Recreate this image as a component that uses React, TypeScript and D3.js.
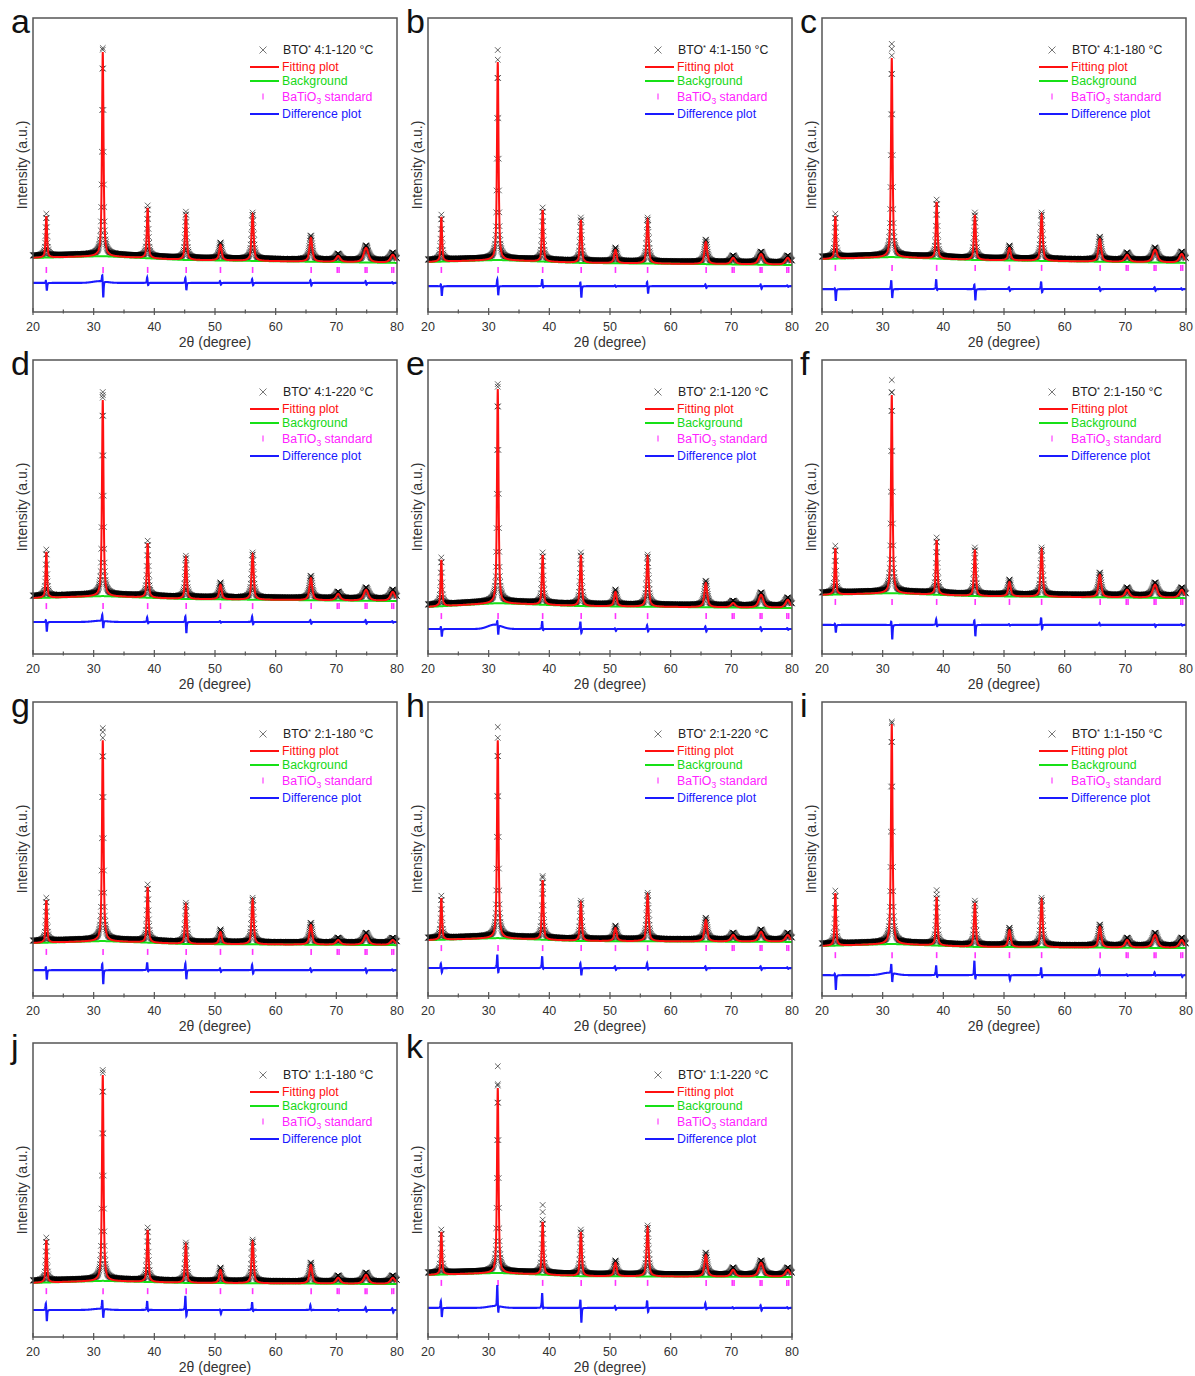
import React from 'react';
import * as d3 from 'd3';

const W = 1195;
const H = 1376;
const FONT = '"Liberation Sans", Arial, Helvetica, sans-serif';

// panel layout
const colLefts = [33, 428, 822];
const rowTops = [18, 360, 702, 1043];
const PW = 364;
const PH = 294;

// labels
const panelLetters = ['a', 'b', 'c', 'd', 'e', 'f', 'g', 'h', 'i', 'j', 'k'];
const sampleRatios = ['4:1', '4:1', '4:1', '4:1', '2:1', '2:1', '2:1', '2:1', '1:1', '1:1', '1:1'];
const sampleTemps = [120, 150, 180, 220, 120, 150, 180, 220, 150, 180, 220];
const xTicks = [20, 30, 40, 50, 60, 70, 80];

// BaTiO3 reflections (2theta) and fitted widths (FWHM, degree)
const peakPositions = [22.2, 31.5, 38.9, 45.2, 50.9, 56.2, 65.8, 70.3, 74.9, 79.3];
const peakWidths = [0.28, 0.3, 0.32, 0.36, 0.5, 0.42, 0.55, 0.8, 0.9, 0.9];
const standardPositions = [22.2, 31.55, 38.9, 45.25, 50.9, 56.2, 65.85, 70.15, 70.45, 74.75, 75.05, 79.15, 79.45];

// background knots (2theta) and levels per panel (a.u.)
const bgKnots = [20, 31.5, 45, 80];
const bgLevels = [
  [184, 190, 177, 167],
  [170, 177, 167, 160],
  [180, 187, 177, 167],
  [190, 197, 187, 180],
  [160, 173, 163, 156],
  [201, 207, 197, 190],
  [180, 187, 177, 173],
  [190, 197, 187, 184],
  [170, 177, 167, 163],
  [184, 191, 184, 180],
  [211, 218, 207, 204],
];

// fitted peak tops per panel (a.u.), one per reflection
const fitTops = [
  [326, 884, 354, 333, 228, 330, 252, 190, 218, 194],
  [323, 850, 347, 313, 211, 313, 238, 184, 197, 184],
  [326, 864, 374, 330, 218, 330, 248, 194, 211, 197],
  [347, 864, 377, 326, 235, 337, 258, 204, 218, 211],
  [320, 901, 337, 337, 211, 330, 241, 173, 201, 184],
  [360, 881, 388, 354, 245, 354, 269, 218, 235, 218],
  [326, 870, 371, 309, 218, 326, 241, 190, 207, 190],
  [333, 870, 394, 316, 231, 343, 258, 207, 218, 207],
  [350, 925, 337, 316, 224, 326, 235, 190, 207, 190],
  [330, 891, 364, 313, 228, 323, 245, 201, 211, 201],
  [357, 847, 391, 357, 252, 371, 279, 228, 252, 228],
];

// observed points sitting above the fit at peak tops [2theta, a.u.]
const extraMarks = [
  [[31.5, 898]],
  [[31.5, 891]],
  [[31.5, 912], [31.5, 895]],
  [[31.5, 891], [31.5, 881]],
  [[31.5, 918]],
  [[31.5, 932], [31.5, 891]],
  [[31.5, 911], [31.5, 898]],
  [[31.5, 915], [38.9, 408], [38.9, 371]],
  [[31.5, 928], [38.9, 360]],
  [[31.5, 908]],
  [[31.5, 921], [31.5, 860], [38.9, 449], [38.9, 425]],
];

// standard tick level and difference baseline per panel
const tickLevels = [143, 143, 150, 163, 129, 177, 150, 163, 139, 156, 184];
const diffLevels = [99, 88, 78, 109, 85, 99, 88, 95, 71, 92, 99];
const diffHumps = [6, 0, 0, 4, 15, 0, 0, 0, 8, 4, 6];

// difference spikes at each reflection: positive and negative lobes
const diffUp = [
  [10, 27, 20, 20, 7, 14, 10, 0, 7, 3],
  [10, 27, 24, 17, 3, 17, 7, 0, 7, 3],
  [7, 34, 34, 20, 7, 27, 7, 0, 7, 3],
  [10, 24, 17, 24, 3, 20, 7, 0, 7, 3],
  [10, 17, 27, 27, 3, 14, 10, 0, 7, 3],
  [7, 17, 20, 20, 3, 27, 7, 0, 3, 3],
  [14, 27, 27, 27, 7, 20, 7, 0, 7, 3],
  [17, 48, 41, 20, 7, 17, 7, 0, 7, 3],
  [10, 34, 34, 51, 3, 27, 17, 3, 10, 3],
  [27, 34, 31, 51, 3, 27, 17, 3, 10, 7],
  [27, 75, 51, 34, 7, 27, 17, 3, 10, 3],
];
const diffDown = [
  [27, 58, 10, 27, 7, 10, 10, 0, 7, 3],
  [34, 34, 7, 41, 3, 27, 7, 0, 10, 3],
  [41, 34, 7, 41, 7, 14, 7, 0, 7, 3],
  [34, 27, 7, 41, 3, 10, 7, 0, 7, 3],
  [27, 34, 7, 17, 7, 10, 10, 0, 7, 3],
  [27, 51, 7, 41, 3, 17, 3, 0, 7, 3],
  [34, 51, 7, 34, 7, 14, 7, 0, 10, 3],
  [17, 20, 7, 27, 7, 7, 7, 0, 7, 3],
  [51, 34, 10, 17, 17, 10, 3, 3, 3, 7],
  [41, 34, 7, 27, 14, 7, 3, 3, 7, 10],
  [34, 27, 7, 54, 7, 17, 7, 3, 10, 3],
];

const lineXs = d3.range(20, 80.0001, 0.02);
const obsXs = d3.range(20, 80.0001, 0.05);

const pv = (x: number, p: number, w: number) => {
  const u = (x - p) / (w / 2);
  const lor = 1 / (1 + u * u);
  const gau = Math.exp(-Math.LN2 * u * u);
  return 0.7 * lor + 0.3 * gau;
};

function Panel({ i }: { i: number }) {
  const left = colLefts[i % 3];
  const top = rowTops[Math.floor(i / 3)];
  const bottom = top + PH;
  const right = left + PW;

  const x = d3.scaleLinear().domain([20, 80]).range([left, right]);
  const y = d3.scaleLinear().domain([0, 1000]).range([bottom, top]);
  const bg = d3.scaleLinear<number>().domain(bgKnots).range(bgLevels[i]);

  const amps = peakPositions.map((p, j) => fitTops[i][j] - bg(p));
  const fit = (t: number) =>
    bg(t) + peakPositions.reduce((s, p, j) => s + amps[j] * pv(t, p, peakWidths[j]), 0);
  const diff = (t: number) => {
    const h = (t - 31) / 1.6;
    let v = diffLevels[i] + diffHumps[i] * Math.exp(-h * h);
    peakPositions.forEach((p, j) => {
      v += diffUp[i][j] * pv(t, p - 0.08, 0.14) - diffDown[i][j] * pv(t, p + 0.08, 0.14);
    });
    return v;
  };

  const fitPath = d3.line<number>().x((t) => x(t)).y((t) => y(fit(t)))(lineXs) || '';
  const bgPath = d3.line<number>().x((t) => x(t)).y((t) => y(bg(t)))(lineXs) || '';
  const diffPath = d3.line<number>().x((t) => x(t)).y((t) => y(diff(t)))(lineXs) || '';

  const s = 2.8;
  const obsPts: [number, number][] = obsXs.map((t) => [t, fit(t) + 8]);
  extraMarks[i].forEach((m) => obsPts.push([m[0], m[1]]));
  const obsPath = obsPts
    .map(([t, v]) => {
      const px = x(t);
      const py = y(v);
      return `M${px - s},${py - s}L${px + s},${py + s}M${px - s},${py + s}L${px + s},${py - s}`;
    })
    .join('');

  const minor = d3.range(25, 80, 10);
  const ty = y(tickLevels[i]);
  const lx = left + 217;
  const legendRows = [top + 32, top + 49, top + 63, top + 78.5, top + 96];

  return (
    <g>
      <text x={left - 22} y={top + 15} fontSize={34} fill="#111" fontFamily={FONT}>
        {panelLetters[i]}
      </text>
      <path d={obsPath} stroke="#000" strokeWidth={0.8} strokeOpacity={0.75} fill="none" />
      <path d={bgPath} stroke="#16e016" strokeWidth={2} fill="none" />
      <path d={fitPath} stroke="#ff1010" strokeWidth={2} fill="none" />
      {standardPositions.map((p, k) => (
        <line key={k} x1={x(p)} x2={x(p)} y1={ty - 3} y2={ty + 3} stroke="#ff33ff" strokeWidth={1.6} />
      ))}
      <path d={diffPath} stroke="#1a1aff" strokeWidth={2.1} fill="none" />

      <rect x={left} y={top} width={PW} height={PH} fill="none" stroke="#555" strokeWidth={1.5} />
      {xTicks.map((t) => (
        <g key={t}>
          <line x1={x(t)} x2={x(t)} y1={bottom - 4} y2={bottom + 3} stroke="#555" strokeWidth={1.2} />
          <text x={x(t)} y={bottom + 19} fontSize={12.5} textAnchor="middle" fill="#333" fontFamily={FONT}>
            {t}
          </text>
        </g>
      ))}
      {minor.map((t) => (
        <line key={t} x1={x(t)} x2={x(t)} y1={bottom - 2.5} y2={bottom + 1.5} stroke="#555" strokeWidth={1.2} />
      ))}
      <text x={(left + right) / 2} y={bottom + 35} fontSize={14} textAnchor="middle" fill="#333" fontFamily={FONT}>
        2θ (degree)
      </text>
      <text
        transform={`translate(${left - 6},${(top + bottom) / 2}) rotate(-90)`}
        fontSize={14}
        textAnchor="middle"
        fill="#333"
        fontFamily={FONT}
      >
        Intensity (a.u.)
      </text>

      {/* legend */}
      <g fontFamily={FONT} fontSize={12.3}>
        <path
          d={`M${lx + 13 - 3.5},${legendRows[0] - 3.5}L${lx + 13 + 3.5},${legendRows[0] + 3.5}M${lx + 13 - 3.5},${legendRows[0] + 3.5}L${lx + 13 + 3.5},${legendRows[0] - 3.5}`}
          stroke="#777"
          strokeWidth={1}
        />
        <text x={lx + 33} y={legendRows[0] + 4} fill="#222">
          BTO<tspan fontSize={7.5} dy={-4}>*</tspan>
          <tspan dy={4}> {sampleRatios[i]}-{sampleTemps[i]} °C</tspan>
        </text>
        <line x1={lx} x2={lx + 29} y1={legendRows[1]} y2={legendRows[1]} stroke="#ff1010" strokeWidth={2} />
        <text x={lx + 32} y={legendRows[1] + 4} fill="#ff1010">Fitting plot</text>
        <line x1={lx} x2={lx + 29} y1={legendRows[2]} y2={legendRows[2]} stroke="#16e016" strokeWidth={2} />
        <text x={lx + 32} y={legendRows[2] + 4} fill="#16d816">Background</text>
        <line x1={lx + 13} x2={lx + 13} y1={legendRows[3] - 3} y2={legendRows[3] + 3} stroke="#ff66ff" strokeWidth={1.5} />
        <text x={lx + 32} y={legendRows[3] + 4} fill="#ff22ff">
          BaTiO<tspan fontSize={8.5} dy={3}>3</tspan>
          <tspan dy={-3}> standard</tspan>
        </text>
        <line x1={lx} x2={lx + 29} y1={legendRows[4]} y2={legendRows[4]} stroke="#1a1aff" strokeWidth={2} />
        <text x={lx + 32} y={legendRows[4] + 4} fill="#1a1aff">Difference plot</text>
      </g>
    </g>
  );
}

export default function App() {
  return (
    <svg
      width={W}
      height={H}
      viewBox={`0 0 ${W} ${H}`}
      style={{ position: 'absolute', left: 0, top: 0, display: 'block', background: '#fff' }}
    >
      {panelLetters.map((_, i) => (
        <Panel key={i} i={i} />
      ))}
    </svg>
  );
}
